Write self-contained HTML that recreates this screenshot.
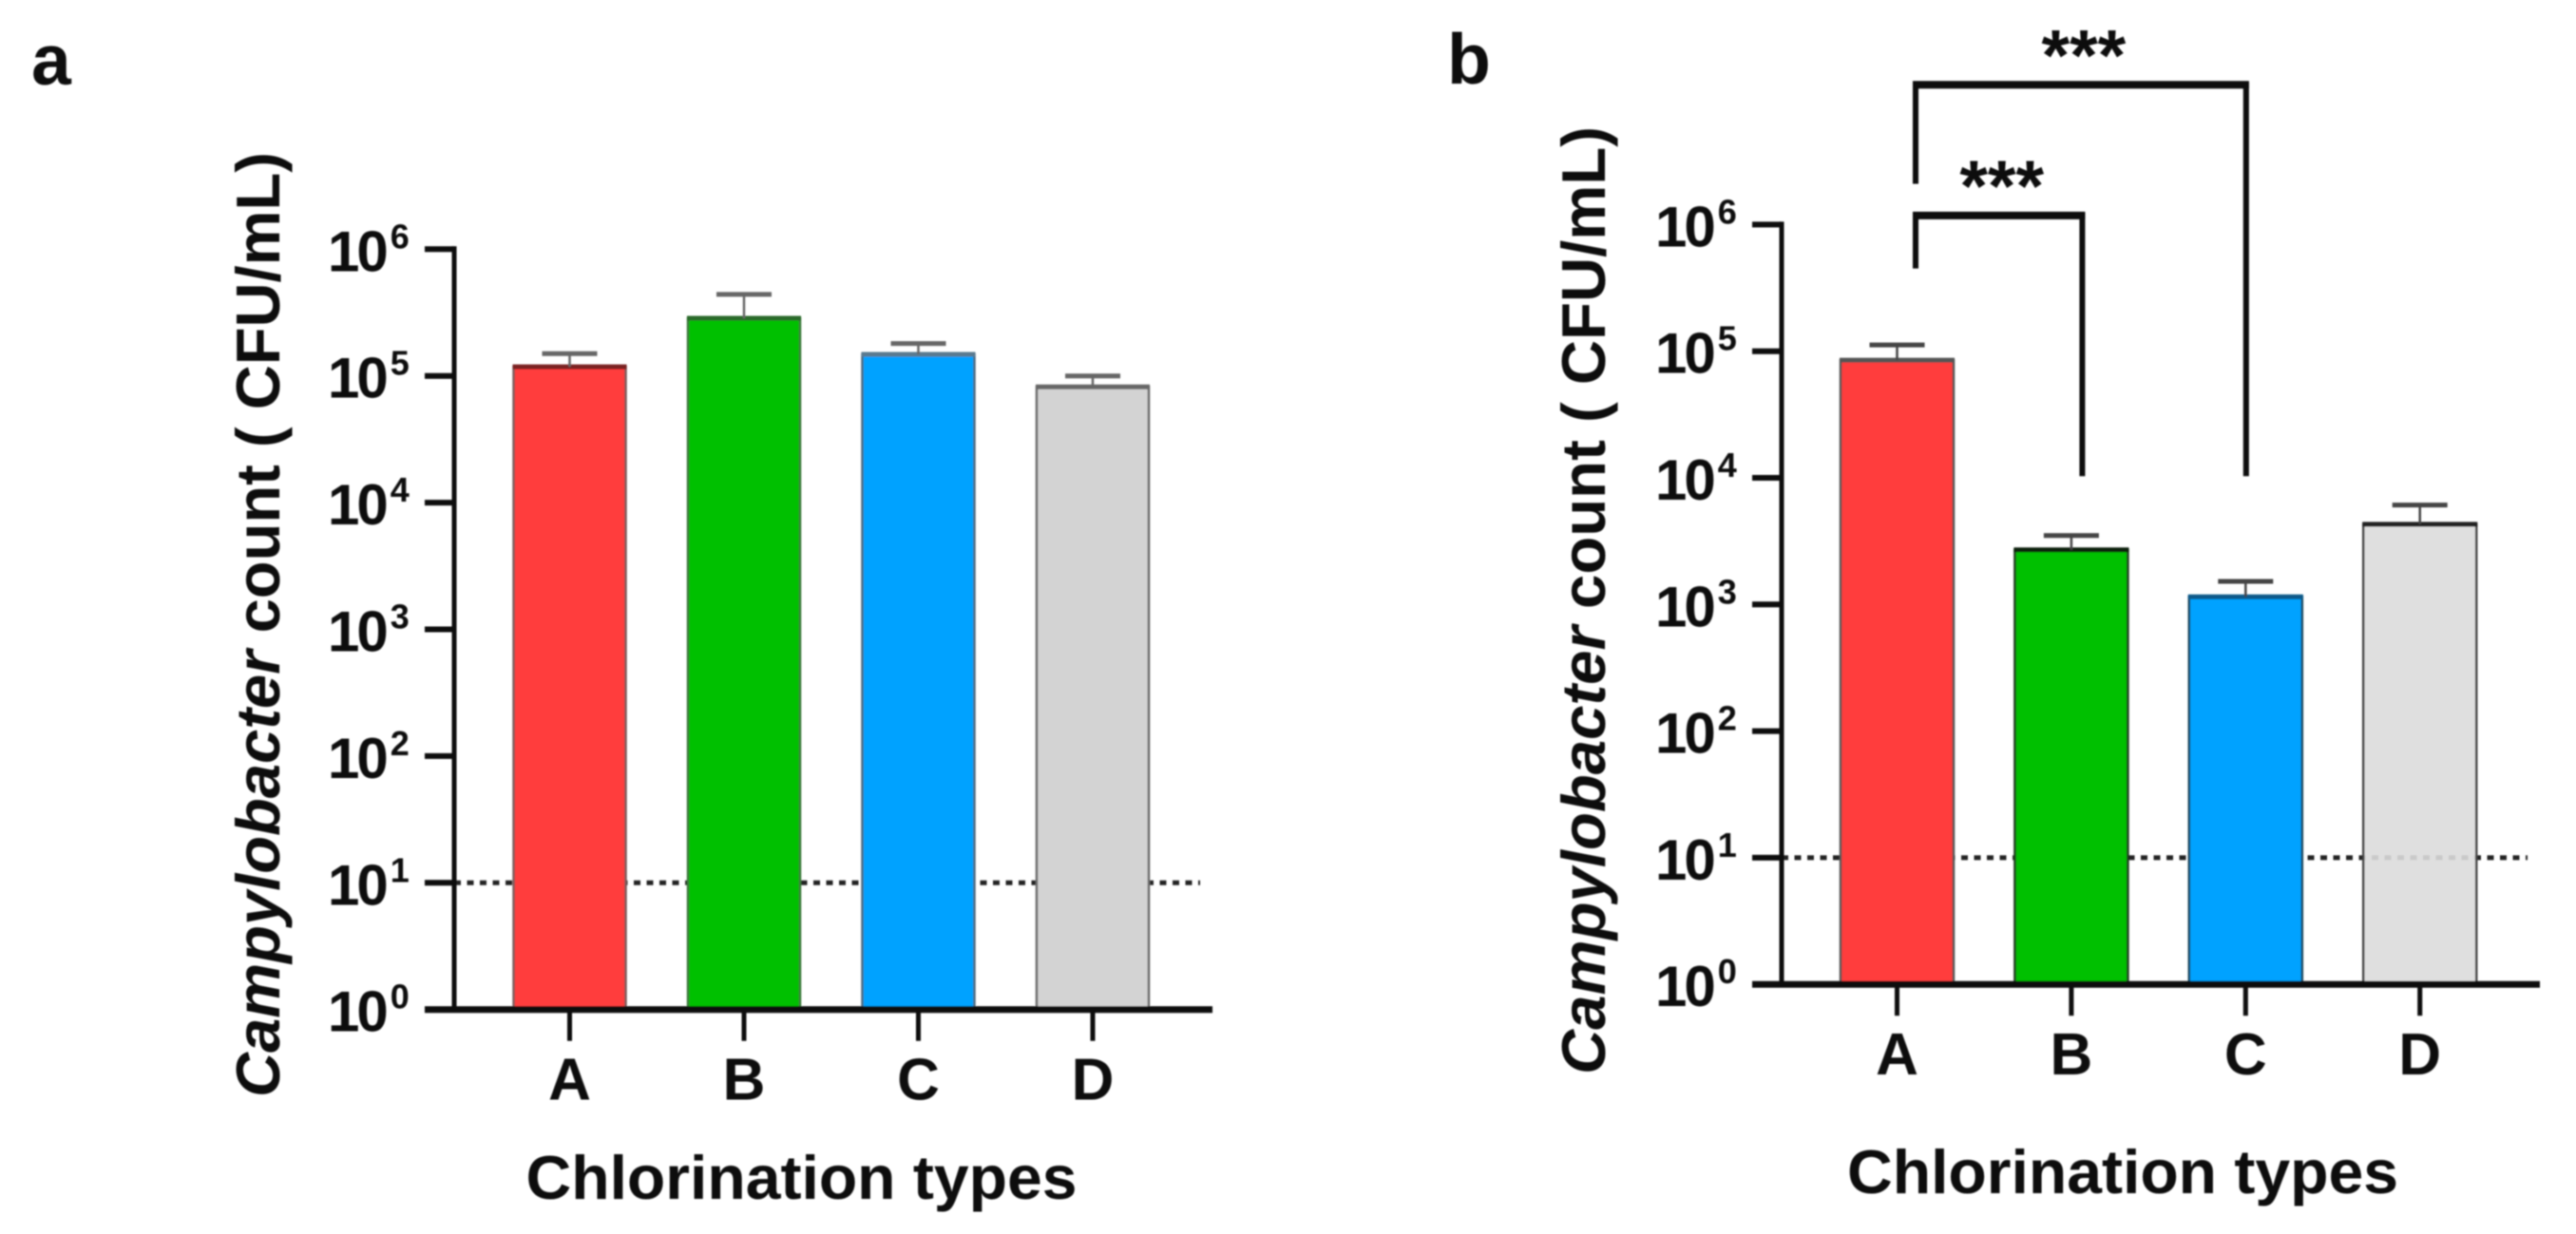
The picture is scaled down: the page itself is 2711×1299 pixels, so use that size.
<!DOCTYPE html>
<html lang="en">
<head>
<meta charset="utf-8">
<title>Campylobacter count by chlorination type</title>
<style>
  html, body { margin: 0; padding: 0; background: #fff; }
  body { width: 2711px; height: 1299px; overflow: hidden; }
  svg { display: block; }
  text { font-family: "Liberation Sans", Arial, sans-serif; font-weight: bold; fill: #0a0a0a; }
</style>
</head>
<body>
<svg id="figure" xmlns="http://www.w3.org/2000/svg" width="2711" height="1299" viewBox="0 0 2711 1299"></svg>
<script>
const categories = ['A', 'B', 'C', 'D'];
const yTickExponents = [0, 1, 2, 3, 4, 5, 6];
const detectionLimit = 10;
const panelAValues = [118000, 285000, 148000, 82000];
const panelAErrorTops = [150000, 440000, 180000, 100000];
const panelBValues = [85000, 2700, 1150, 4300];
const panelBErrorTops = [112000, 3500, 1520, 6100];
const barColors = ['#ff3c3c', '#00c000', '#00a2ff', '#d3d3d3'];
const bracketLabels = ['***', '***'];
const bracketEnds = ['B', 'C'];
const bracketTops = [1180000, 12700000];
const bracketLeftBottoms = [450000, 2100000];
const bracketRightBottoms = [10300, 10300];

const svg = document.getElementById('figure');
const NS = 'http://www.w3.org/2000/svg';

function make(tag, attrs, parent, txt) {
  const e = document.createElementNS(NS, tag);
  for (const k in attrs) e.setAttribute(k, attrs[k]);
  if (txt !== undefined) e.textContent = txt;
  parent.appendChild(e);
  return e;
}

function drawPanel(cfg) {
  const g = make('g', { filter: 'url(#soft)' }, svg);
  
  

  const xScale = i => cfg.x0 + i * cfg.step;
  const yScale = v => cfg.y0 - Math.log10(v) * cfg.decade;
  const yMax = yScale(Math.pow(10, yTickExponents[yTickExponents.length - 1]));

  const letter = make('text', { x: cfg.letterX, y: cfg.letterY, 'font-size': 75 }, g, cfg.id);
  
  

  // y axis title
  const title = make('text', {
    transform: 'translate(' + cfg.titleX + ',' + cfg.titleBottom + ') rotate(-90)',
    'font-size': 65,
    textLength: cfg.titleLength,
    lengthAdjust: 'spacingAndGlyphs'
  }, g);
  
  
  make('tspan', { 'font-style': 'italic' }, title, 'Campylobacter');
  make('tspan', {}, title, ' count ( CFU/mL)');

  // detection limit line
  const limit = make('line', {
    x1: cfg.axisX, x2: cfg.limitEnd,
    y1: yScale(detectionLimit), y2: yScale(detectionLimit),
    stroke: '#222', 'stroke-width': 5, 'stroke-dasharray': '7 6.5'
  }, g);
  
  

  // bars and error bars
  categories.forEach((cat, i) => {
    const cx = xScale(i);
    const top = yScale(cfg.values[i]);
    const errTop = yScale(cfg.errors[i]);
    const left = cx - cfg.barWidth / 2;
    const right = cx + cfg.barWidth / 2;

    const bar = make('rect', {
      x: left, y: top, width: cfg.barWidth, height: cfg.y0 - top,
      fill: cfg.colors[i], 'fill-opacity': cfg.opacity[i],
      stroke: cfg.edges[i], 'stroke-width': 2.5
    }, g);
    
    

    const barTop = make('line', {
      x1: left - 1, x2: right + 1, y1: top, y2: top,
      stroke: cfg.tops[i], 'stroke-width': 5
    }, g);
    
    

    const stem = make('line', {
      x1: cx, x2: cx, y1: top, y2: errTop,
      stroke: cfg.errColors[i], 'stroke-width': 2.5
    }, g);
    
    

    const cap = make('line', {
      x1: cx - 29, x2: cx + 29, y1: errTop, y2: errTop,
      stroke: cfg.errColors[i], 'stroke-width': 5
    }, g);
    
    

    const tick = make('line', {
      x1: cx, x2: cx, y1: cfg.y0, y2: cfg.y0 + 33,
      stroke: '#0a0a0a', 'stroke-width': 5
    }, g);
    
    

    const lab = make('text', {
      x: cx, y: cfg.y0 + 95, 'font-size': 62, 'text-anchor': 'middle'
    }, g, cat);
    
    
  });

  // axes
  const yAxis = make('line', {
    x1: cfg.axisX, x2: cfg.axisX, y1: yMax - 3, y2: cfg.y0,
    stroke: '#0a0a0a', 'stroke-width': 5
  }, g);
  
  

  const xAxis = make('line', {
    x1: cfg.axisX - 31, x2: cfg.axisEnd, y1: cfg.y0, y2: cfg.y0,
    stroke: '#0a0a0a', 'stroke-width': 7
  }, g);
  
  

  yTickExponents.forEach(exp => {
    const y = yScale(Math.pow(10, exp));
    const tick = make('line', {
      x1: cfg.axisX - 31, x2: cfg.axisX, y1: y, y2: y,
      stroke: '#0a0a0a', 'stroke-width': 6
    }, g);
    
    

    const lab = make('text', {
      x: cfg.axisX - 133, y: y + 23, 'font-size': 60, 'letter-spacing': -3
    }, g);
    
    
    make('tspan', {}, lab, '10');
    make('tspan', { dx: 5, dy: -24, 'font-size': 36, 'letter-spacing': 0 }, lab, String(exp));
  });

  // x axis title
  const xTitle = make('text', {
    x: cfg.xTitleX, y: cfg.xTitleY, 'font-size': 65,
    textLength: 580, lengthAdjust: 'spacingAndGlyphs'
  }, g, 'Chlorination types');
  
  

  // significance brackets
  if (cfg.brackets) {
    bracketLabels.forEach((label, i) => {
      const leftX = xScale(0) + 19.5;
      const rightX = xScale(categories.indexOf(bracketEnds[i])) + (i === 0 ? 11.5 : 0.5);
      const topY = yScale(bracketTops[i]);
      const leftBottom = yScale(bracketLeftBottoms[i]);
      const rightBottom = yScale(bracketRightBottoms[i]);

      const path = make('path', {
        d: 'M' + leftX + ' ' + leftBottom + 'V' + topY + 'H' + rightX + 'V' + rightBottom,
        fill: 'none', stroke: '#0a0a0a', 'stroke-width': 6
      }, g);
      
      

      const bracketBar = make('line', {
        x1: leftX - 3, x2: rightX + 3, y1: topY, y2: topY,
        stroke: '#0a0a0a', 'stroke-width': 8
      }, g);
      
      

      const stars = make('text', {
        x: (leftX + rightX) / 2 + 3, y: topY - 5, 'font-size': 76, 'text-anchor': 'middle'
      }, g, label);
      
      
    });
  }
}

const defs = make('defs', {}, svg);
const soft = make('filter', { id: 'soft', x: '-5%', y: '-5%', width: '110%', height: '110%' }, defs);
make('feGaussianBlur', { stdDeviation: 0.9 }, soft);

drawPanel({
  id: 'a', letterX: 33, letterY: 89,
  x0: 599.5, step: 183.5, barWidth: 118,
  y0: 1062.7, decade: 133.4,
  axisX: 478, axisEnd: 1276, limitEnd: 1263,
  titleX: 294, titleBottom: 1155, titleLength: 995,
  xTitleX: 553.5, xTitleY: 1262,
  values: panelAValues, errors: panelAErrorTops,
  colors: barColors, opacity: [1, 1, 1, 1],
  edges: ['#7a5a5a', '#3a7a3a', '#4a6a80', '#6a6a6a'],
  tops: ['#7a2020', '#2a6a2a', '#5a7a90', '#666666'],
  errColors: ['#666666', '#666666', '#666666', '#666666']
});

drawPanel({
  id: 'b', letterX: 1523, letterY: 88,
  x0: 1996.5, step: 183.4, barWidth: 119,
  y0: 1036.2, decade: 133.3,
  axisX: 1875, axisEnd: 2673, limitEnd: 2660,
  titleX: 1689, titleBottom: 1131, titleLength: 998,
  xTitleX: 1944, xTitleY: 1256,
  values: panelBValues, errors: panelBErrorTops,
  colors: ['#ff3c3c', '#00c000', '#00a2ff', '#dcdcdc'], opacity: [1, 1, 1, 0.9],
  edges: ['#555555', '#1a3a1a', '#1a4a60', '#444444'],
  tops: ['#555555', '#102010', '#0a5a8a', '#222222'],
  errColors: ['#444444', '#444444', '#444444', '#444444'],
  brackets: true
});
</script>
</body>
</html>
